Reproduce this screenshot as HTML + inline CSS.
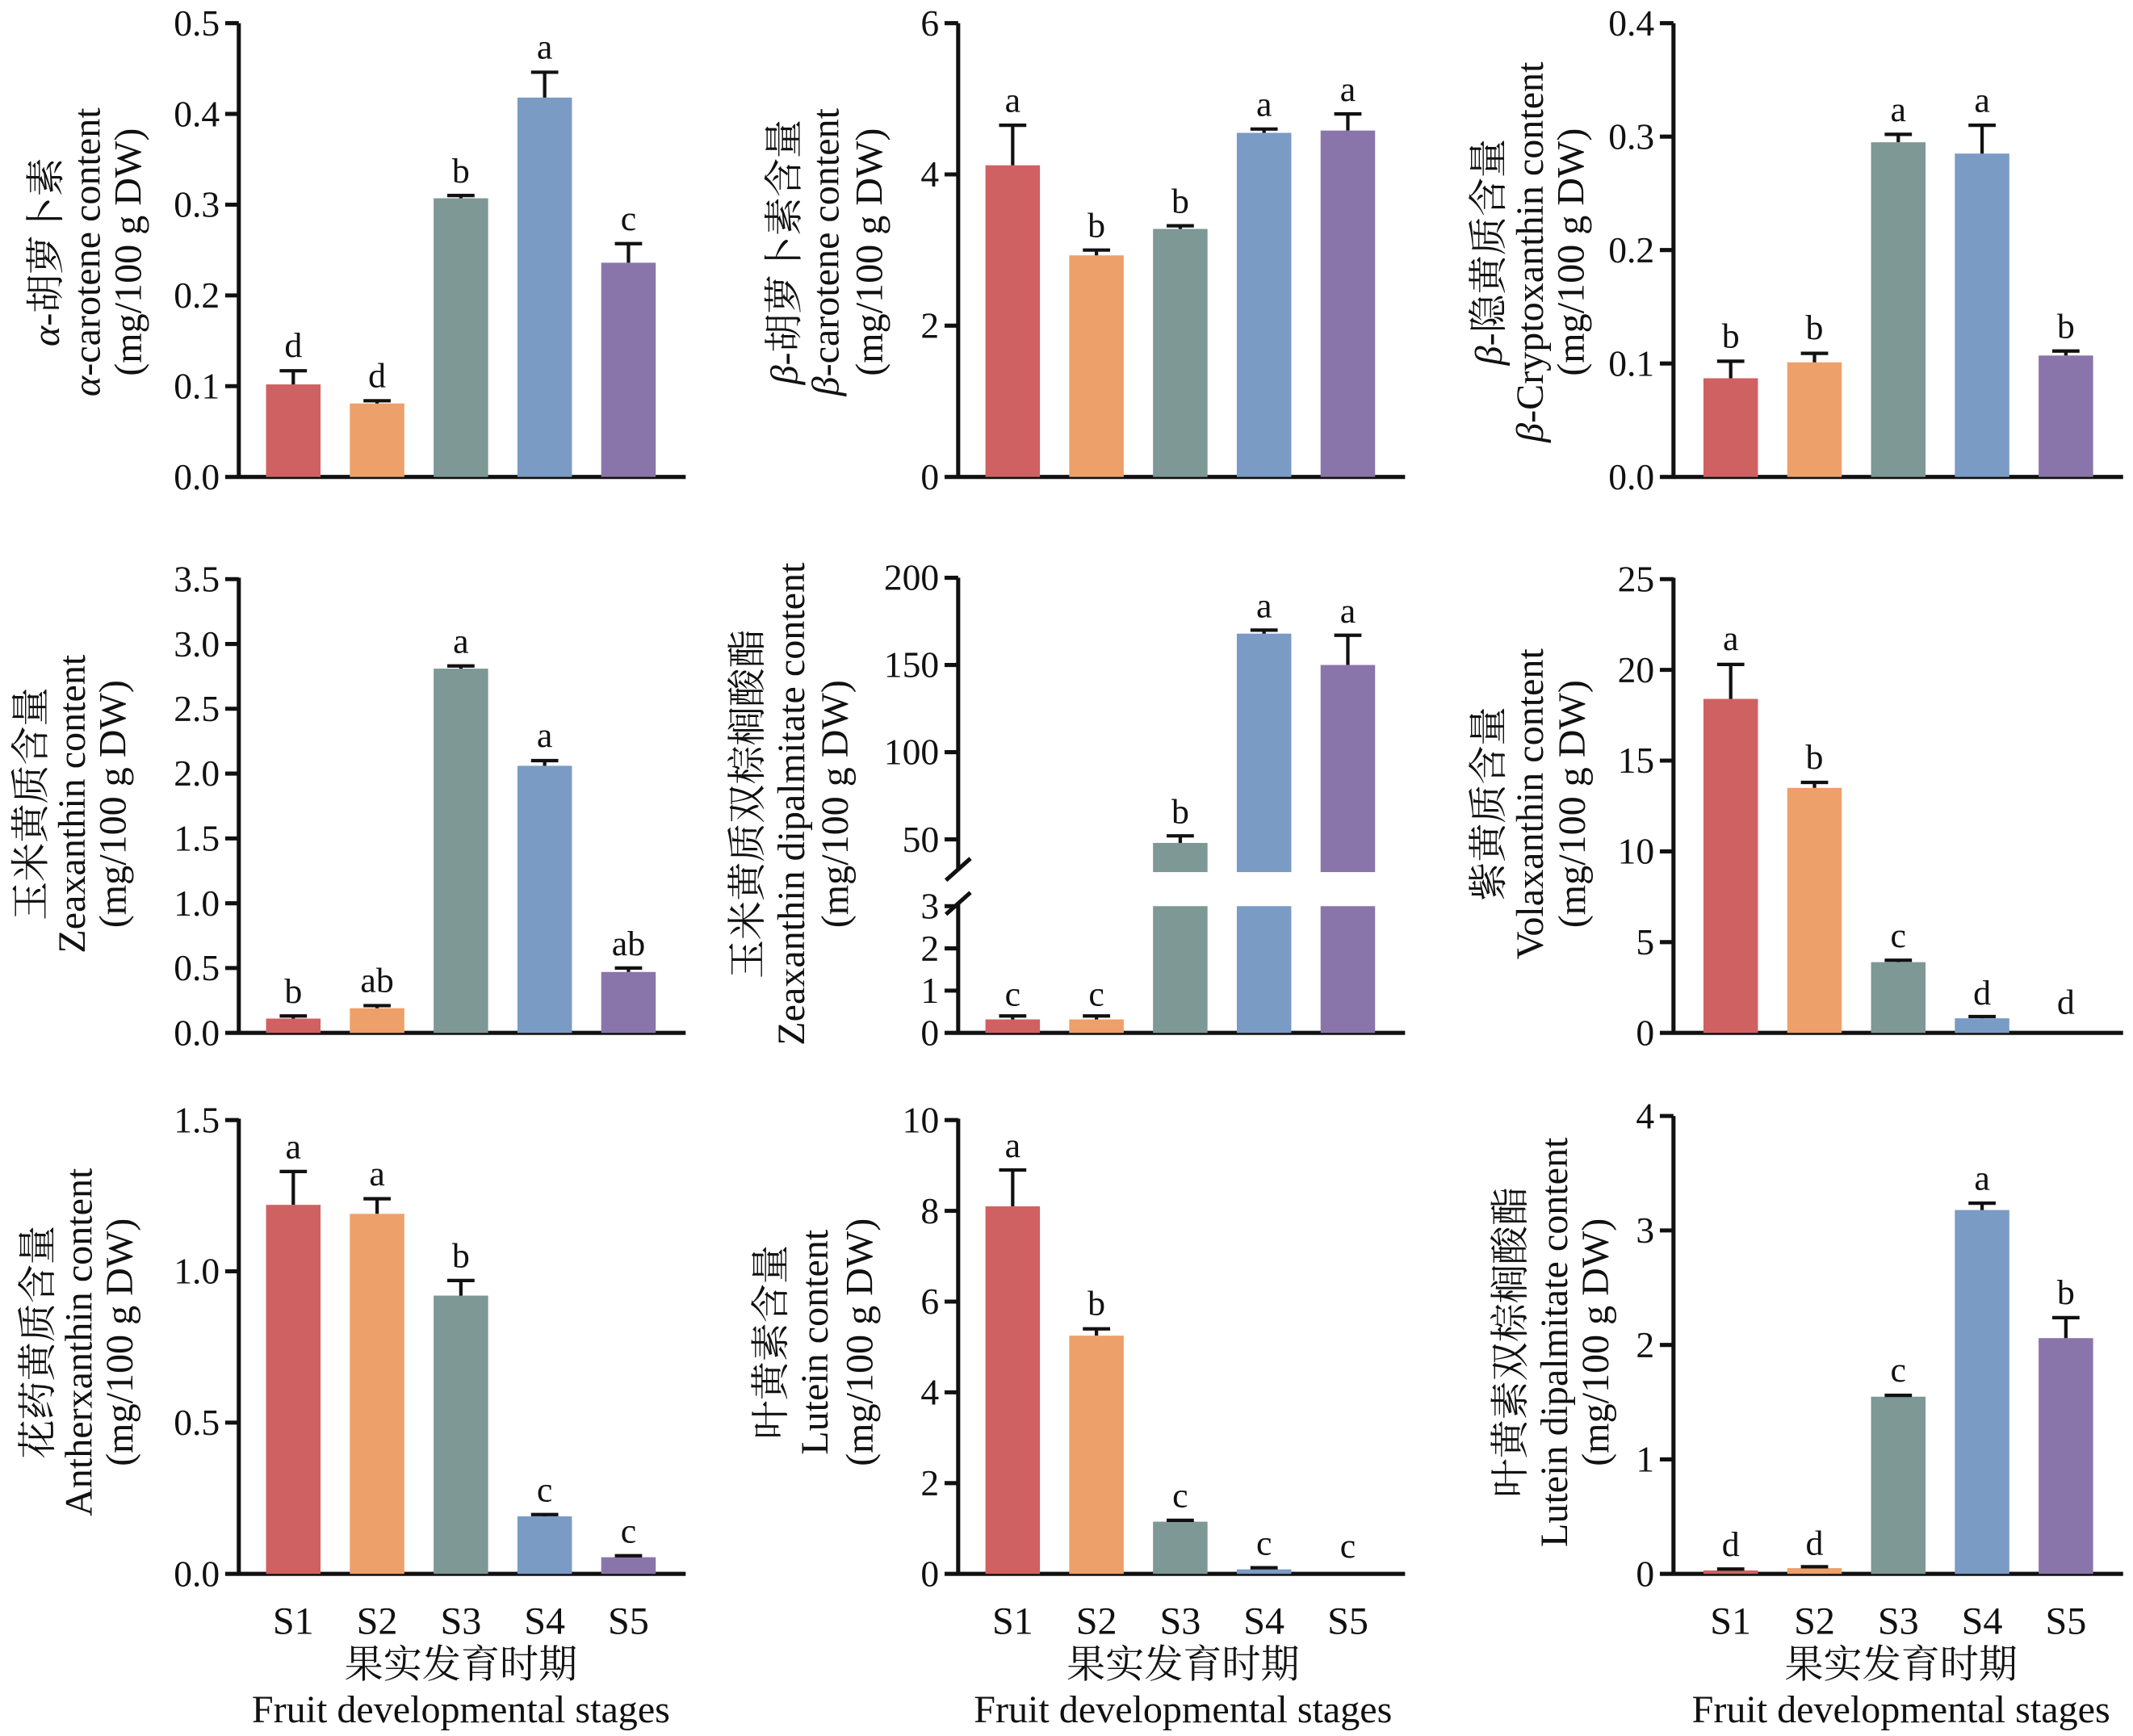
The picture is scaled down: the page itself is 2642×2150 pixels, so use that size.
<!DOCTYPE html>
<html><head><meta charset="utf-8"><style>
html,body{margin:0;padding:0;background:#fff}
svg{display:block}
text{font-family:"Liberation Serif","Noto Serif CJK SC",serif;fill:#111}
.t{font-size:27px;text-anchor:end}
.l{font-size:26px;text-anchor:middle}
.y{font-size:28.5px;text-anchor:middle}
.ax{stroke:#111;stroke-width:3;fill:none}
.e{stroke:#111;stroke-width:2.5;fill:none}
.c1{fill:#d06162}.c2{fill:#eda06a}.c3{fill:#7d9895}.c4{fill:#7a9bc4}.c5{fill:#8a75aa}
</style></head><body>
<svg width="2642" height="2150" viewBox="0 0 1565 1274" xmlns="http://www.w3.org/2000/svg">
<rect width="1565" height="1274" fill="#fff"/>

<!-- P1 -->
<g transform="translate(175,350)">
<path class="ax" d="M0,-333V0H328 M-10,0H0 M-10,-66.6H0 M-10,-133.2H0 M-10,-199.8H0 M-10,-266.4H0 M-10,-333H0"/>
<text class="t" x="-14" y="9">0.0</text><text class="t" x="-14" y="-57.6">0.1</text><text class="t" x="-14" y="-124.2">0.2</text><text class="t" x="-14" y="-190.8">0.3</text><text class="t" x="-14" y="-257.4">0.4</text><text class="t" x="-14" y="-324">0.5</text>
<rect class="c1" x="20" y="-67.9" width="40" height="67.9"/><rect class="c2" x="81.5" y="-53.9" width="40" height="53.9"/><rect class="c3" x="143" y="-204.5" width="40" height="204.5"/><rect class="c4" x="204.5" y="-278.4" width="40" height="278.4"/><rect class="c5" x="266" y="-157.2" width="40" height="157.2"/>
<path class="e" d="M40,-67.9V-77.9M30,-77.9H50 M101.5,-53.9V-55.9M91.5,-55.9H111.5 M163,-204.5V-206.5M153,-206.5H173 M224.5,-278.4V-297M214.5,-297H234.5 M286,-157.2V-171.2M276,-171.2H296"/>
<text class="l" x="40" y="-88">d</text><text class="l" x="101.5" y="-66">d</text><text class="l" x="163" y="-216">b</text><text class="l" x="224.5" y="-307">a</text><text class="l" x="286" y="-181">c</text>
</g>
<g transform="translate(33,185) rotate(-90)"><text class="y" x="0" y="10"><tspan font-style="italic">α</tspan>-胡萝卜素</text></g>
<g transform="translate(63,185) rotate(-90)"><text class="y" x="0" y="10"><tspan font-style="italic">α</tspan>-carotene content</text></g>
<g transform="translate(93,185) rotate(-90)"><text class="y" x="0" y="10">(mg/100 g DW)</text></g>

<!-- P2 -->
<g transform="translate(703,350)">
<path class="ax" d="M0,-333V0H328 M-10,0H0 M-10,-111H0 M-10,-222H0 M-10,-333H0"/>
<text class="t" x="-14" y="9">0</text><text class="t" x="-14" y="-102">2</text><text class="t" x="-14" y="-213">4</text><text class="t" x="-14" y="-324">6</text>
<rect class="c1" x="20" y="-228.7" width="40" height="228.7"/><rect class="c2" x="81.5" y="-162.6" width="40" height="162.6"/><rect class="c3" x="143" y="-182" width="40" height="182"/><rect class="c4" x="204.5" y="-252.5" width="40" height="252.5"/><rect class="c5" x="266" y="-254.2" width="40" height="254.2"/>
<path class="e" d="M40,-228.7V-258.1M30,-258.1H50 M101.5,-162.6V-166.5M91.5,-166.5H111.5 M163,-182V-184.3M153,-184.3H173 M224.5,-252.5V-255.3M214.5,-255.3H234.5 M286,-254.2V-266.4M276,-266.4H296"/>
<text class="l" x="40" y="-268">a</text><text class="l" x="101.5" y="-176">b</text><text class="l" x="163" y="-194">b</text><text class="l" x="224.5" y="-265">a</text><text class="l" x="286" y="-276">a</text>
</g>
<g transform="translate(575,185) rotate(-90)"><text class="y" x="0" y="10"><tspan font-style="italic">β</tspan>-胡萝卜素含量</text></g>
<g transform="translate(605,185) rotate(-90)"><text class="y" x="0" y="10"><tspan font-style="italic">β</tspan>-carotene content</text></g>
<g transform="translate(637,185) rotate(-90)"><text class="y" x="0" y="10">(mg/100 g DW)</text></g>

<!-- P3 -->
<g transform="translate(1228,350)">
<path class="ax" d="M0,-333V0H330 M-10,0H0 M-10,-83.25H0 M-10,-166.5H0 M-10,-249.75H0 M-10,-333H0"/>
<text class="t" x="-14" y="9">0.0</text><text class="t" x="-14" y="-74.25">0.1</text><text class="t" x="-14" y="-157.5">0.2</text><text class="t" x="-14" y="-240.75">0.3</text><text class="t" x="-14" y="-324">0.4</text>
<rect class="c1" x="22" y="-72.4" width="40" height="72.4"/><rect class="c2" x="83.5" y="-84.1" width="40" height="84.1"/><rect class="c3" x="145" y="-245.6" width="40" height="245.6"/><rect class="c4" x="206.5" y="-237.3" width="40" height="237.3"/><rect class="c5" x="268" y="-89.1" width="40" height="89.1"/>
<path class="e" d="M42,-72.4V-84.9M32,-84.9H52 M103.5,-84.1V-90.7M93.5,-90.7H113.5 M165,-245.6V-251.4M155,-251.4H175 M226.5,-237.3V-258.1M216.5,-258.1H236.5 M288,-89.1V-92.4M278,-92.4H298"/>
<text class="l" x="42" y="-95">b</text><text class="l" x="103.5" y="-101">b</text><text class="l" x="165" y="-261">a</text><text class="l" x="226.5" y="-268">a</text><text class="l" x="288" y="-102">b</text>
</g>
<g transform="translate(1092,185) rotate(-90)"><text class="y" x="0" y="10"><tspan font-style="italic">β</tspan>-隐黄质含量</text></g>
<g transform="translate(1122,185) rotate(-90)"><text class="y" x="0" y="10"><tspan font-style="italic">β</tspan>-Cryptoxanthin content</text></g>
<g transform="translate(1152,185) rotate(-90)"><text class="y" x="0" y="10">(mg/100 g DW)</text></g>

<!-- P4 -->
<g transform="translate(175,758)">
<path class="ax" d="M0,-334V0H328 M-10,0H0 M-10,-47.6H0 M-10,-95.1H0 M-10,-142.7H0 M-10,-190.3H0 M-10,-237.9H0 M-10,-285.4H0 M-10,-333H0"/>
<text class="t" x="-14" y="9">0.0</text><text class="t" x="-14" y="-38.6">0.5</text><text class="t" x="-14" y="-86.1">1.0</text><text class="t" x="-14" y="-133.7">1.5</text><text class="t" x="-14" y="-181.3">2.0</text><text class="t" x="-14" y="-228.9">2.5</text><text class="t" x="-14" y="-276.4">3.0</text><text class="t" x="-14" y="-324">3.5</text>
<rect class="c1" x="20" y="-10.5" width="40" height="10.5"/><rect class="c2" x="81.5" y="-18.1" width="40" height="18.1"/><rect class="c3" x="143" y="-267.3" width="40" height="267.3"/><rect class="c4" x="204.5" y="-196" width="40" height="196"/><rect class="c5" x="266" y="-44.7" width="40" height="44.7"/>
<path class="e" d="M40,-10.5V-12.4M30,-12.4H50 M101.5,-18.1V-20M91.5,-20H111.5 M163,-267.3V-269.3M153,-269.3H173 M224.5,-196V-199.8M214.5,-199.8H234.5 M286,-44.7V-47.6M276,-47.6H296"/>
<text class="l" x="40" y="-22">b</text><text class="l" x="101.5" y="-30">ab</text><text class="l" x="163" y="-279">a</text><text class="l" x="224.5" y="-210">a</text><text class="l" x="286" y="-57">ab</text>
</g>
<g transform="translate(22,590) rotate(-90)"><text class="y" x="0" y="10">玉米黄质含量</text></g>
<g transform="translate(52,590) rotate(-90)"><text class="y" x="0" y="10">Zeaxanthin content</text></g>
<g transform="translate(82,590) rotate(-90)"><text class="y" x="0" y="10">(mg/100 g DW)</text></g>

<!-- P5 -->
<g transform="translate(703,758)">
<path class="ax" d="M0,-334V-120 M0,-95V0H328 M-10,0H0 M-10,-31H0 M-10,-62H0 M-10,-93H0 M-10,-142H0 M-10,-206H0 M-10,-270H0 M-10,-334H0 M-9,-112L9,-128 M-9,-87L9,-103"/>
<text class="t" x="-14" y="9">0</text><text class="t" x="-14" y="-22">1</text><text class="t" x="-14" y="-53">2</text><text class="t" x="-14" y="-84">3</text><text class="t" x="-14" y="-133">50</text><text class="t" x="-14" y="-197">100</text><text class="t" x="-14" y="-261">150</text><text class="t" x="-14" y="-325">200</text>
<rect class="c1" x="20" y="-9.9" width="40" height="9.9"/><rect class="c2" x="81.5" y="-9.9" width="40" height="9.9"/>
<rect class="c3" x="143" y="-93" width="40" height="93"/><rect class="c4" x="204.5" y="-93" width="40" height="93"/><rect class="c5" x="266" y="-93" width="40" height="93"/>
<rect class="c3" x="143" y="-139.4" width="40" height="21.4"/><rect class="c4" x="204.5" y="-293" width="40" height="175"/><rect class="c5" x="266" y="-270" width="40" height="152"/>
<path class="e" d="M40,-9.9V-12.4M30,-12.4H50 M101.5,-9.9V-12.4M91.5,-12.4H111.5 M163,-139.4V-144.6M153,-144.6H173 M224.5,-293V-295.6M214.5,-295.6H234.5 M286,-270V-291.8M276,-291.8H296"/>
<text class="l" x="40" y="-20">c</text><text class="l" x="101.5" y="-20">c</text><text class="l" x="163" y="-154">b</text><text class="l" x="224.5" y="-305">a</text><text class="l" x="286" y="-301">a</text>
</g>
<g transform="translate(548,590) rotate(-90)"><text class="y" x="0" y="10">玉米黄质双棕榈酸酯</text></g>
<g transform="translate(580,590) rotate(-90)"><text class="y" x="0" y="10">Zeaxanthin dipalmitate content</text></g>
<g transform="translate(612,590) rotate(-90)"><text class="y" x="0" y="10">(mg/100 g DW)</text></g>

<!-- P6 -->
<g transform="translate(1228,758)">
<path class="ax" d="M0,-334V0H330 M-10,0H0 M-10,-66.6H0 M-10,-133.2H0 M-10,-199.8H0 M-10,-266.4H0 M-10,-333H0"/>
<text class="t" x="-14" y="9">0</text><text class="t" x="-14" y="-57.6">5</text><text class="t" x="-14" y="-124.2">10</text><text class="t" x="-14" y="-190.8">15</text><text class="t" x="-14" y="-257.4">20</text><text class="t" x="-14" y="-324">25</text>
<rect class="c1" x="22" y="-245.1" width="40" height="245.1"/><rect class="c2" x="83.5" y="-179.8" width="40" height="179.8"/><rect class="c3" x="145" y="-51.9" width="40" height="51.9"/><rect class="c4" x="206.5" y="-10.7" width="40" height="10.7"/>
<path class="e" d="M42,-245.1V-270.4M32,-270.4H52 M103.5,-179.8V-183.8M93.5,-183.8H113.5 M165,-51.9V-53.3M155,-53.3H175 M226.5,-10.7V-12M216.5,-12H236.5"/>
<text class="l" x="42" y="-281">a</text><text class="l" x="103.5" y="-194">b</text><text class="l" x="165" y="-63">c</text><text class="l" x="226.5" y="-21">d</text><text class="l" x="288" y="-14">d</text>
</g>
<g transform="translate(1092,590) rotate(-90)"><text class="y" x="0" y="10">紫黄质含量</text></g>
<g transform="translate(1122,590) rotate(-90)"><text class="y" x="0" y="10">Volaxanthin content</text></g>
<g transform="translate(1153,590) rotate(-90)"><text class="y" x="0" y="10">(mg/100 g DW)</text></g>

<!-- P7 -->
<g transform="translate(175,1155)">
<path class="ax" d="M0,-334V0H328 M-10,0H0 M-10,-111H0 M-10,-222H0 M-10,-333H0"/>
<text class="t" x="-14" y="9">0.0</text><text class="t" x="-14" y="-102">0.5</text><text class="t" x="-14" y="-213">1.0</text><text class="t" x="-14" y="-324">1.5</text>
<rect class="c1" x="20" y="-270.8" width="40" height="270.8"/><rect class="c2" x="81.5" y="-264.2" width="40" height="264.2"/><rect class="c3" x="143" y="-204.2" width="40" height="204.2"/><rect class="c4" x="204.5" y="-42.2" width="40" height="42.2"/><rect class="c5" x="266" y="-12.2" width="40" height="12.2"/>
<path class="e" d="M40,-270.8V-295.3M30,-295.3H50 M101.5,-264.2V-275.3M91.5,-275.3H111.5 M163,-204.2V-215.3M153,-215.3H173 M224.5,-42.2V-43.5M214.5,-43.5H234.5 M286,-12.2V-13.3M276,-13.3H296"/>
<text class="l" x="40" y="-305">a</text><text class="l" x="101.5" y="-285">a</text><text class="l" x="163" y="-225">b</text><text class="l" x="224.5" y="-53">c</text><text class="l" x="286" y="-23">c</text>
</g>
<g transform="translate(27,985) rotate(-90)"><text class="y" x="0" y="10">花药黄质含量</text></g>
<g transform="translate(57,985) rotate(-90)"><text class="y" x="0" y="10">Antherxanthin content</text></g>
<g transform="translate(87,985) rotate(-90)"><text class="y" x="0" y="10">(mg/100 g DW)</text></g>

<!-- P8 -->
<g transform="translate(703,1155)">
<path class="ax" d="M0,-334V0H328 M-10,0H0 M-10,-66.6H0 M-10,-133.2H0 M-10,-199.8H0 M-10,-266.4H0 M-10,-333H0"/>
<text class="t" x="-14" y="9">0</text><text class="t" x="-14" y="-57.6">2</text><text class="t" x="-14" y="-124.2">4</text><text class="t" x="-14" y="-190.8">6</text><text class="t" x="-14" y="-257.4">8</text><text class="t" x="-14" y="-324">10</text>
<rect class="c1" x="20" y="-269.7" width="40" height="269.7"/><rect class="c2" x="81.5" y="-174.8" width="40" height="174.8"/><rect class="c3" x="143" y="-38.3" width="40" height="38.3"/><rect class="c4" x="204.5" y="-3.3" width="40" height="3.3"/>
<path class="e" d="M40,-269.7V-296.4M30,-296.4H50 M101.5,-174.8V-179.8M91.5,-179.8H111.5 M163,-38.3V-39.3M153,-39.3H173 M224.5,-3.3V-4.5M214.5,-4.5H234.5"/>
<text class="l" x="40" y="-306">a</text><text class="l" x="101.5" y="-190">b</text><text class="l" x="163" y="-49">c</text><text class="l" x="224.5" y="-14">c</text><text class="l" x="286" y="-12">c</text>
</g>
<g transform="translate(565,985) rotate(-90)"><text class="y" x="0" y="10">叶黄素含量</text></g>
<g transform="translate(597,985) rotate(-90)"><text class="y" x="0" y="10">Lutein content</text></g>
<g transform="translate(630,985) rotate(-90)"><text class="y" x="0" y="10">(mg/100 g DW)</text></g>

<!-- P9 -->
<g transform="translate(1228,1155)">
<path class="ax" d="M0,-336V0H330 M-10,0H0 M-10,-84H0 M-10,-168H0 M-10,-252H0 M-10,-336H0"/>
<text class="t" x="-14" y="9">0</text><text class="t" x="-14" y="-75">1</text><text class="t" x="-14" y="-159">2</text><text class="t" x="-14" y="-243">3</text><text class="t" x="-14" y="-327">4</text>
<rect class="c1" x="22" y="-2.5" width="40" height="2.5"/><rect class="c2" x="83.5" y="-4.2" width="40" height="4.2"/><rect class="c3" x="145" y="-130" width="40" height="130"/><rect class="c4" x="206.5" y="-267" width="40" height="267"/><rect class="c5" x="268" y="-173" width="40" height="173"/>
<path class="e" d="M42,-2.5V-3.5M32,-3.5H52 M103.5,-4.2V-5.2M93.5,-5.2H113.5 M165,-130V-131M155,-131H175 M226.5,-267V-272M216.5,-272H236.5 M288,-173V-188M278,-188H298"/>
<text class="l" x="42" y="-13">d</text><text class="l" x="103.5" y="-14">d</text><text class="l" x="165" y="-141">c</text><text class="l" x="226.5" y="-282">a</text><text class="l" x="288" y="-198">b</text>
</g>
<g transform="translate(1108,985) rotate(-90)"><text class="y" x="0" y="10">叶黄素双棕榈酸酯</text></g>
<g transform="translate(1140,985) rotate(-90)"><text class="y" x="0" y="10">Lutein dipalmitate content</text></g>
<g transform="translate(1170,985) rotate(-90)"><text class="y" x="0" y="10">(mg/100 g DW)</text></g>

<!-- X labels -->
<g>
<text class="y" x="215" y="1199">S1</text><text class="y" x="276.5" y="1199">S2</text><text class="y" x="338" y="1199">S3</text><text class="y" x="399.5" y="1199">S4</text><text class="y" x="461" y="1199">S5</text>
<text class="y" x="743" y="1199">S1</text><text class="y" x="804.5" y="1199">S2</text><text class="y" x="866" y="1199">S3</text><text class="y" x="927.5" y="1199">S4</text><text class="y" x="989" y="1199">S5</text>
<text class="y" x="1270" y="1199">S1</text><text class="y" x="1331.5" y="1199">S2</text><text class="y" x="1393" y="1199">S3</text><text class="y" x="1454.5" y="1199">S4</text><text class="y" x="1516" y="1199">S5</text>
<text class="y" x="338" y="1231">果实发育时期</text><text class="y" x="868" y="1231">果实发育时期</text><text class="y" x="1395" y="1231">果实发育时期</text>
<text class="y" x="338" y="1264">Fruit developmental stages</text><text class="y" x="868" y="1264">Fruit developmental stages</text><text class="y" x="1395" y="1264">Fruit developmental stages</text>
</g>
</svg>
</body></html>
